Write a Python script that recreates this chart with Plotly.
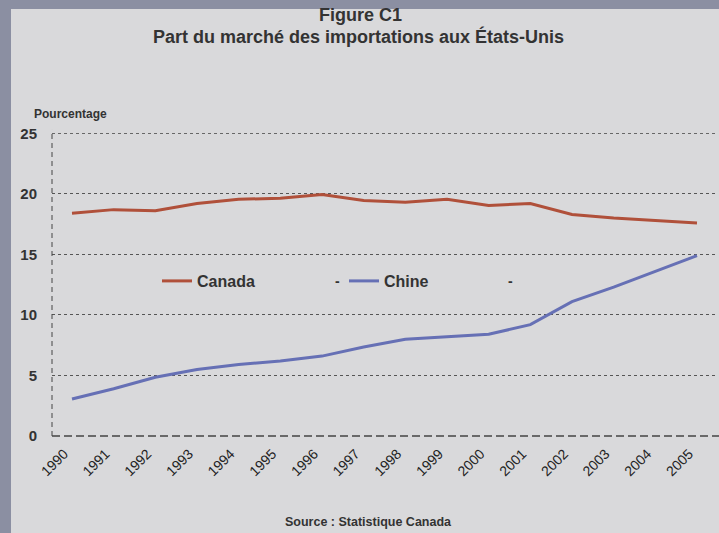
import plotly.graph_objects as go

years = list(range(1990, 2006))
canada = [18.4, 18.7, 18.6, 19.2, 19.55, 19.65, 19.95, 19.45, 19.3, 19.55, 19.05, 19.2, 18.3, 18.0, 17.8, 17.6]
chine = [3.05, 3.9, 4.85, 5.5, 5.9, 6.2, 6.6, 7.35, 8.0, 8.2, 8.4, 9.2, 11.1, 12.3, 13.6, 14.9]
y_ticks = [0, 5, 10, 15, 20, 25]

W, H = 719, 533
L, R, T, B = 52, 2, 133, 97
pw, ph = W - L - R, H - T - B

def px_x(px):
    return (px - L) / pw

def px_y(py):
    return (H - B - py) / ph

BG = "#d9d9db"
BORDER = "#8b8fa2"
TXT = "#333333"
FONT = "Liberation Sans, Arial, sans-serif"

fig = go.Figure()
fig.add_trace(go.Scatter(x=years, y=canada, mode="lines", name="Canada",
                         line=dict(color="#b0503a", width=3)))
fig.add_trace(go.Scatter(x=years, y=chine, mode="lines", name="Chine",
                         line=dict(color="#6670b5", width=3)))

fig.update_layout(
    width=W, height=H,
    margin=dict(l=L, r=R, t=T, b=B),
    paper_bgcolor=BORDER,
    plot_bgcolor="rgba(0,0,0,0)",
    font=dict(family=FONT, color=TXT),
    showlegend=True,
    legend=dict(orientation="h", x=px_x(157), xanchor="left", y=px_y(281), yanchor="middle",
                bgcolor="rgba(0,0,0,0)", font=dict(size=16, color=TXT, family=FONT, weight="bold"),
                entrywidth=142, entrywidthmode="pixels", itemclick=False),
    xaxis=dict(range=[1989.52, 2005.48], tickvals=years, ticktext=[str(y) for y in years],
               tickangle=-45, showgrid=False, zeroline=False, showline=False, ticks="",
               tickfont=dict(size=14, color="#222222", family=FONT), ticklabelstandoff=6,
               ticklabelshift=-8),
    yaxis=dict(range=[0, 25.03], tickvals=y_ticks, showgrid=True, gridcolor="#555555",
               griddash="dot", gridwidth=1, zeroline=False, showline=False, ticks="",
               tickfont=dict(size=15, color=TXT, family=FONT, weight="bold"), ticklabelstandoff=14),
)

# light panel over the blue-grey border
fig.add_shape(type="rect", xref="paper", yref="paper", layer="below",
              x0=px_x(11), x1=px_x(W + 2), y0=px_y(H + 2), y1=px_y(9),
              fillcolor=BG, line=dict(width=0))
# top gridline (at range edge)
fig.add_shape(type="line", xref="paper", yref="y", x0=0, x1=1, y0=y_ticks[-1], y1=y_ticks[-1],
              line=dict(color="#555555", width=1, dash="dot"))
# dashed axis lines
fig.add_shape(type="line", xref="paper", yref="paper", x0=0, x1=0, y0=0, y1=1.01,
              line=dict(color="#444444", width=1, dash="5px,4px"))
fig.add_shape(type="line", xref="paper", yref="paper", x0=0, x1=1.005, y0=0, y1=0,
              line=dict(color="#444444", width=1.3, dash="8px,4px"))

fig.add_annotation(text="<b>Figure C1</b>", xref="paper", yref="paper",
                   x=px_x(360), y=px_y(15), xanchor="center", yanchor="middle",
                   showarrow=False, font=dict(size=18, color=TXT, family=FONT))
fig.add_annotation(text="<b>Part du marché des importations aux États-Unis</b>", xref="paper", yref="paper",
                   x=px_x(358), y=px_y(36), xanchor="center", yanchor="middle",
                   showarrow=False, font=dict(size=18, color=TXT, family=FONT))
fig.add_annotation(text="<b>Pourcentage</b>", xref="paper", yref="paper",
                   x=px_x(32), y=px_y(114), xanchor="left", yanchor="middle",
                   showarrow=False, font=dict(size=12, color=TXT, family=FONT))
fig.add_annotation(text="<b>Source : Statistique Canada</b>", xref="paper", yref="paper",
                   x=px_x(368), y=px_y(522), xanchor="center", yanchor="middle",
                   showarrow=False, font=dict(size=12.5, color=TXT, family=FONT))
for dx in (337, 510):
    fig.add_annotation(text="<b>-</b>", xref="paper", yref="paper",
                       x=px_x(dx), y=px_y(281), xanchor="center", yanchor="middle",
                       showarrow=False, font=dict(size=14, color=TXT, family=FONT))

fig.write_html("out.html", config={"displayModeBar": False},
               post_script="document.body.style.margin='0';document.body.style.overflow='hidden';")
